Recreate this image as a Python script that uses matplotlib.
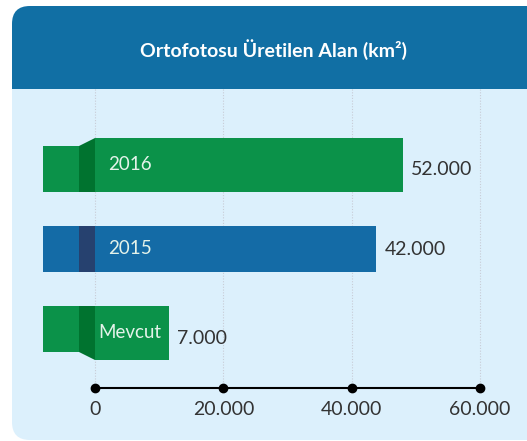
import matplotlib.pyplot as plt
from matplotlib.patches import FancyBboxPatch, Rectangle, Polygon

# Veriler
categories = ['2016', '2015', 'Mevcut']
values = [52000, 42000, 7000]            # etiketlerde yazan değerler
bar_lengths = [48000, 43800, 11500]      # eksene göre çizilen çubuk boyları
ticks = [0, 20000, 40000, 60000]
tick_labels = ['0', '20.000', '40.000', '60.000']
title = 'Ortofotosu Üretilen Alan (km²)'

# Renkler
main_colors = ['#0B9249', '#146BA6', '#0B9249']
fold_colors = ['#00732F', '#26416F', '#00732F']
flaps = [-1, 0, 1]   # kıvrımın yönü (yukarı / yok / aşağı)

W, H = 527, 441
fig = plt.figure(figsize=(W / 100, H / 100), dpi=100)
fig.patch.set_facecolor('white')

# Arka plan kartı (piksel koordinatları)
bg = fig.add_axes([0, 0, 1, 1])
bg.set_xlim(0, W)
bg.set_ylim(H, 0)
bg.axis('off')
bg.add_patch(FancyBboxPatch((12, 6), 560, 434, boxstyle='round,pad=0,rounding_size=18',
                            fc='#DCF0FC', ec='none'))
bg.add_patch(FancyBboxPatch((12, 6), 560, 83, boxstyle='round,pad=0,rounding_size=18',
                            fc='#116FA4', ec='none'))
bg.add_patch(Rectangle((12, 50), 560, 39, fc='#116FA4', ec='none'))
bg.text(274, 50, title, color='white', fontsize=14, fontweight='bold',
        family='Lato', ha='center', va='center')

# Grafik ekseni
u = 60000 / 385      # veri birimi / piksel (x)
v = 1 / 80           # veri birimi / piksel (y)
x0 = (12 - 95) * u
x1 = (527 - 95) * u
ax = fig.add_axes([12 / W, 0, 1 - 12 / W, (H - 89) / H])
ax.patch.set_alpha(0)
ax.set_xlim(x0, x1)
ax.set_ylim((441 - 169) * v, -(169 - 89) * v)
ax.axis('off')

h = 46 * v
flap = 8 * v
tab_left = -52 * u
tab_w = 36 * u
fold_left = -16 * u
y_axis = (388 - 169) * v

ax.vlines(ticks, -1.0, y_axis, colors='#C8CCD6', linestyles=(0, (1, 1.5)), lw=0.8, zorder=0)

for i, (cat, val, length) in enumerate(zip(categories, values, bar_lengths)):
    f = flaps[i]
    top = i - h / 2 + min(f, 0) * flap
    bot = i + h / 2 + max(f, 0) * flap
    ax.barh((top + bot) / 2, length, height=bot - top, left=0, color=main_colors[i], zorder=2)
    ax.barh(i, tab_w, height=h, left=tab_left, color=main_colors[i], zorder=2)
    pts = [(fold_left, i - h / 2), (0, top), (0, bot), (fold_left, i + h / 2)]
    ax.add_patch(Polygon(pts, closed=True, fc=fold_colors[i], ec='none', zorder=3))
    ax.annotate(cat, (0, (top + bot) / 2), xytext=(25, 0), textcoords='offset points',
                ha='center', va='center', color='#E4F3EA', fontsize=13.5,
                family='Lato', zorder=4)
    ax.annotate(f'{val:,}'.replace(',', '.'), (length, bot - 22 * v), xytext=(6, 0),
                textcoords='offset points', ha='left', va='center', color='#333333',
                fontsize=14, family='Lato')

ax.plot(ticks, [y_axis] * len(ticks), '-o', color='black', lw=1.5, ms=6, zorder=3)
for t, lab in zip(ticks, tick_labels):
    ax.text(t, (410 - 169) * v, lab, ha='center', va='center', color='#333333',
            fontsize=14, family='Lato')

fig.savefig('out.png', dpi=100)
